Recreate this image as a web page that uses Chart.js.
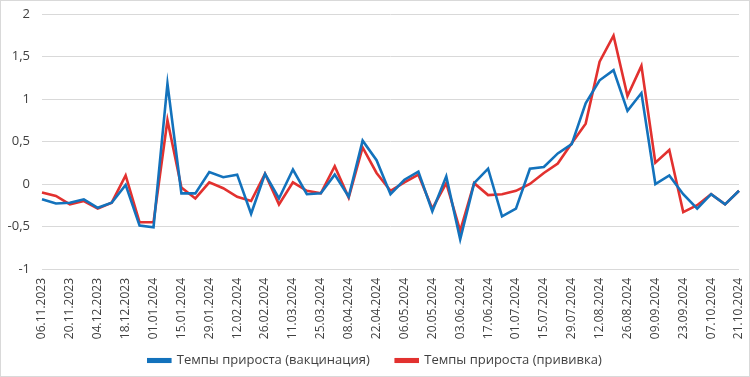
<!DOCTYPE html>
<html lang="ru">
<head>
<meta charset="utf-8">
<title>Темпы прироста</title>
<script src="https://cdn.jsdelivr.net/npm/chart.js@4.4.1/dist/chart.umd.min.js"></script>
<style>
    html, body { margin: 0; padding: 0; background: #fff; }
    .wrap { position: relative; width: 748px; height: 375px; border: 1px solid #d9d9d9; }
</style>
</head>
<body>
<div class="wrap"><canvas id="growthChart"></canvas></div>
<script>
// Weekly dates (Monday of each week)
const weeks = [
    '06.11.2023', '13.11.2023', '20.11.2023', '27.11.2023', '04.12.2023', '11.12.2023', '18.12.2023', '25.12.2023',
    '01.01.2024', '08.01.2024', '15.01.2024', '22.01.2024', '29.01.2024', '05.02.2024', '12.02.2024', '19.02.2024',
    '26.02.2024', '04.03.2024', '11.03.2024', '18.03.2024', '25.03.2024', '01.04.2024', '08.04.2024', '15.04.2024',
    '22.04.2024', '29.04.2024', '06.05.2024', '13.05.2024', '20.05.2024', '27.05.2024', '03.06.2024', '10.06.2024',
    '17.06.2024', '24.06.2024', '01.07.2024', '08.07.2024', '15.07.2024', '22.07.2024', '29.07.2024', '05.08.2024',
    '12.08.2024', '19.08.2024', '26.08.2024', '02.09.2024', '09.09.2024', '16.09.2024', '23.09.2024', '30.09.2024',
    '07.10.2024', '14.10.2024', '21.10.2024'
];

// Темпы прироста (вакцинация)
const vaccination = [
    -0.18, -0.23, -0.22, -0.18, -0.28, -0.22, -0.01, -0.49,
    -0.51, 1.18, -0.11, -0.11, 0.14, 0.08, 0.11, -0.35,
    0.12, -0.17, 0.17, -0.12, -0.11, 0.11, -0.15, 0.51,
    0.28, -0.12, 0.05, 0.145, -0.32, 0.09, -0.65, 0.01,
    0.18, -0.38, -0.29, 0.18, 0.20, 0.36, 0.47, 0.95,
    1.22, 1.34, 0.86, 1.07, 0.00, 0.10, -0.12, -0.29,
    -0.12, -0.24, -0.08
];

// Темпы прироста (прививка)
const inoculation = [
    -0.10, -0.14, -0.24, -0.20, -0.29, -0.22, 0.10, -0.45,
    -0.45, 0.75, -0.04, -0.17, 0.02, -0.05, -0.15, -0.20,
    0.12, -0.24, 0.02, -0.08, -0.11, 0.21, -0.16, 0.43,
    0.13, -0.08, 0.02, 0.11, -0.29, 0.01, -0.55, 0.01,
    -0.13, -0.12, -0.08, 0.00, 0.13, 0.24, 0.48, 0.71,
    1.44, 1.745, 1.035, 1.39, 0.25, 0.40, -0.33, -0.25,
    -0.12, -0.24, -0.08
];

const yTicks = { min: -1, max: 2, step: 0.5 };

const tickFont = { family: "'Open Sans', 'DejaVu Sans', sans-serif", size: 12 };
const legendFont = { family: "'Open Sans', sans-serif", size: 13 };

// keep legend short and pull it up under the date labels
const legendSpacing = {
    id: 'legendSpacing',
    beforeInit(chart) {
        const fit = chart.legend.fit;
        chart.legend.fit = function () {
            fit.call(this);
            this.height = 33;
        };
    },
    afterLayout(chart) {
        chart.legend.top -= 15;
    }
};

const ctx = document.getElementById('growthChart').getContext('2d');
new Chart(ctx, {
    type: 'line',
    data: {
        labels: weeks,
        datasets: [{
            label: 'Темпы прироста (вакцинация)',
            data: vaccination,
            borderColor: '#1372bc',
            backgroundColor: '#1372bc',
            borderWidth: 2.6,
            pointRadius: 0,
            tension: 0
        }, {
            label: 'Темпы прироста (прививка)',
            data: inoculation,
            borderColor: '#e2312f',
            backgroundColor: '#e2312f',
            borderWidth: 2.6,
            pointRadius: 0,
            tension: 0
        }]
    },
    plugins: [legendSpacing],
    options: {
        responsive: true,
        maintainAspectRatio: false,
        animation: false,
        layout: { padding: { top: 13, right: 0, bottom: 0, left: 0 } },
        plugins: {
            tooltip: { enabled: false },
            legend: {
                position: 'bottom',
                labels: {
                    font: legendFont,
                    color: '#404040',
                    boxWidth: 22,
                    boxHeight: 2.5,
                    padding: 26
                }
            }
        },
        scales: {
            x: {
                offset: false,
                grid: { display: false, drawTicks: false },
                border: { display: false },
                ticks: {
                    autoSkip: false,
                    minRotation: 90,
                    maxRotation: 90,
                    padding: 9,
                    color: '#404040',
                    font: tickFont,
                    callback: (val, idx) => idx % 2 === 0 ? weeks[idx] : ''
                },
                afterFit: scale => {
                    scale.height = 74;
                    scale.paddingLeft = 0;
                    scale.paddingRight = 10;
                }
            },
            y: {
                min: yTicks.min,
                max: yTicks.max,
                grid: { color: '#d9d9d9', lineWidth: 1, drawTicks: false },
                border: { display: false },
                ticks: {
                    stepSize: yTicks.step,
                    padding: 12,
                    color: '#404040',
                    font: { family: tickFont.family, size: 13 },
                    callback: v => String(v).replace('.', ',')
                },
                afterFit: scale => {
                    scale.width = 41;
                    scale.paddingTop = 0;
                    scale.paddingBottom = 0;
                }
            }
        }
    }
});
</script>
</body>
</html>
